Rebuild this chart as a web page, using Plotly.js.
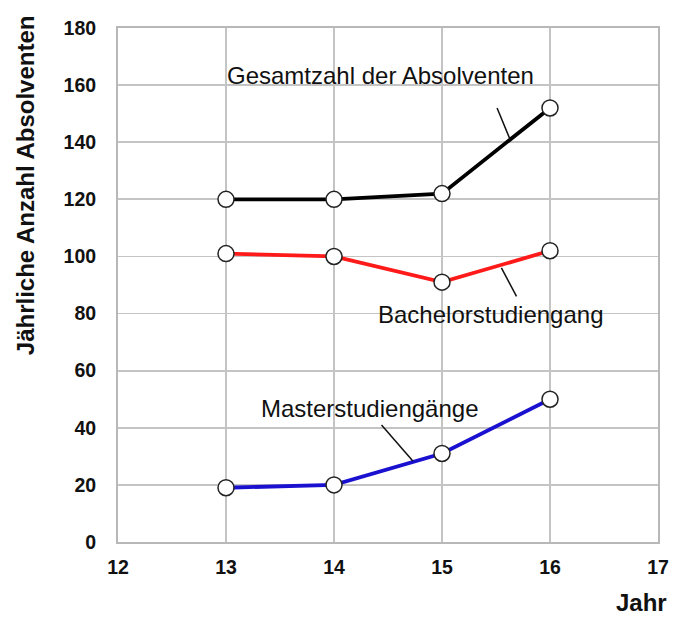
<!DOCTYPE html>
<html>
<head>
<meta charset="utf-8">
<script src="https://cdn.plot.ly/plotly-3.0.1.min.js"></script>
<style>html,body{margin:0;padding:0;background:#fff;}#chart{width:675px;height:619px;}</style>
</head>
<body>
<div id="chart"></div>
<script>
const years = [13, 14, 15, 16];
const gesamt = [120, 120, 122, 152];
const bachelor = [101, 100, 91, 102];
const master = [19, 20, 31, 50];
const xTicks = [12, 13, 14, 15, 16, 17];
const yTicks = [0, 20, 40, 60, 80, 100, 120, 140, 160, 180];
const labelGesamt = "Gesamtzahl der Absolventen";
const labelBachelor = "Bachelorstudiengang";
const labelMaster = "Masterstudiengänge";
const yTitle = "Jährliche Anzahl Absolventen";
const xTitle = "Jahr";

function series(y, color) {
  return {
    x: years, y: y, type: 'scatter', mode: 'lines+markers',
    line: {color: color, width: 3.8},
    marker: {size: 16, color: '#ffffff', line: {color: '#222222', width: 1.5}},
    hoverinfo: 'skip', showlegend: false
  };
}

const data = [series(gesamt, '#000000'), series(bachelor, '#ff1a1a'), series(master, '#1a10d0')];

const leaders = [
  {x0: 15.51, y0: 152, x1: 15.63, y1: 141},
  {x0: 15.55, y0: 96, x1: 15.69, y1: 86},
  {x0: 14.44, y0: 41, x1: 14.73, y1: 28.4}
];
const shapes = leaders.map(l => ({type: 'line', xref: 'x', yref: 'y', x0: l.x0, y0: l.y0, x1: l.x1, y1: l.y1, line: {color: '#111111', width: 1.5}}));

const fam = 'Liberation Sans, Arial, sans-serif';
const txtFont = {family: fam, size: 24, color: '#111111'};
const boldTitle = {family: fam, size: 24, color: '#111111', weight: 'bold'};
const annotations = [
  {x: 14.426, y: 163.5, xref: 'x', yref: 'y', text: labelGesamt, showarrow: false, font: txtFont},
  {x: 15.45, y: 79.5, xref: 'x', yref: 'y', text: labelBachelor, showarrow: false, font: txtFont},
  {x: 14.333, y: 46.9, xref: 'x', yref: 'y', text: labelMaster, showarrow: false, font: txtFont},
  {x: 1.018, y: -0.145, xref: 'paper', yref: 'paper', text: xTitle, showarrow: false, xanchor: 'right', yanchor: 'bottom', borderpad: 0, font: boldTitle},
  {x: -0.17, y: 0.6946, xref: 'paper', yref: 'paper', text: yTitle, showarrow: false, textangle: -90, xanchor: 'center', yanchor: 'middle', font: boldTitle}
];

const tickFont = {family: fam, size: 19.5, color: '#111111', weight: 'bold'};

const layout = {
  width: 675, height: 619,
  margin: {l: 118, r: 17, t: 28, b: 77},
  paper_bgcolor: '#ffffff', plot_bgcolor: '#ffffff',
  xaxis: {
    range: [12, 17], tickvals: xTicks, ticktext: xTicks.map(String),
    showgrid: true, gridcolor: '#c4c4c4', gridwidth: 1.8,
    showline: true, linecolor: '#b8b8b8', linewidth: 2, mirror: true,
    zeroline: false, ticks: '', tickfont: tickFont, ticklabelstandoff: 7, fixedrange: true
  },
  yaxis: {
    range: [0, 180], tickvals: yTicks, ticktext: yTicks.map(String),
    showgrid: true, gridcolor: '#c4c4c4', gridwidth: 1.8,
    showline: true, linecolor: '#b8b8b8', linewidth: 2, mirror: true,
    zeroline: false, ticks: '', tickfont: tickFont, ticklabelstandoff: 16,
    automargin: false, fixedrange: true
  },
  shapes: shapes,
  annotations: annotations
};

Plotly.newPlot('chart', data, layout, {displayModeBar: false, staticPlot: true});
</script>
</body>
</html>
